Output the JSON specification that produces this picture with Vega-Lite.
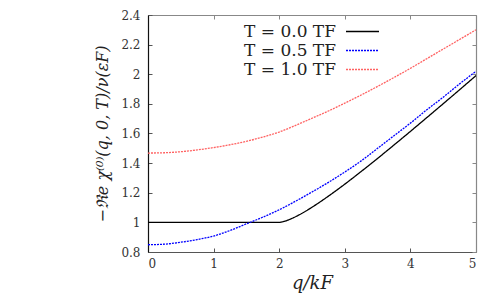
{
  "$schema": "https://vega.github.io/schema/vega-lite/v6.json",
  "width": 328,
  "height": 237,
  "autosize": {"type": "none"},
  "padding": {"left": 148, "top": 15, "right": 22, "bottom": 43},
  "background": "white",
  "config": {
    "view": {"stroke": null},
    "font": "DejaVu Serif",
    "axis": {
      "grid": false,
      "labelFont": "DejaVu Serif",
      "labelFontSize": 12,
      "labelColor": "#333333",
      "titleFont": "DejaVu Serif",
      "titleFontWeight": "normal",
      "titleColor": "#222222",
      "tickSize": -4,
      "tickWidth": 1,
      "domainWidth": 1.2
    }
  },
  "data": {
    "values": [
      {"series": "T = 0.0 TF", "q": 0, "v": 1.0},
      {"series": "T = 0.0 TF", "q": 1, "v": 1.0},
      {"series": "T = 0.0 TF", "q": 2, "v": 1.0},
      {"series": "T = 0.0 TF", "q": 2.05, "v": 1.0037},
      {"series": "T = 0.0 TF", "q": 2.1, "v": 1.0099},
      {"series": "T = 0.0 TF", "q": 2.2, "v": 1.028},
      {"series": "T = 0.0 TF", "q": 2.3, "v": 1.0499},
      {"series": "T = 0.0 TF", "q": 2.4, "v": 1.075},
      {"series": "T = 0.0 TF", "q": 2.5, "v": 1.1022},
      {"series": "T = 0.0 TF", "q": 2.6, "v": 1.1311},
      {"series": "T = 0.0 TF", "q": 2.7, "v": 1.1615},
      {"series": "T = 0.0 TF", "q": 2.8, "v": 1.1928},
      {"series": "T = 0.0 TF", "q": 3.0, "v": 1.2581},
      {"series": "T = 0.0 TF", "q": 3.25, "v": 1.3437},
      {"series": "T = 0.0 TF", "q": 3.5, "v": 1.4319},
      {"series": "T = 0.0 TF", "q": 3.75, "v": 1.5225},
      {"series": "T = 0.0 TF", "q": 4.0, "v": 1.6142},
      {"series": "T = 0.0 TF", "q": 4.25, "v": 1.7072},
      {"series": "T = 0.0 TF", "q": 4.5, "v": 1.801},
      {"series": "T = 0.0 TF", "q": 4.75, "v": 1.8954},
      {"series": "T = 0.0 TF", "q": 5.0, "v": 1.9908},
      {"series": "T = 0.5 TF", "q": 0, "v": 0.849},
      {"series": "T = 0.5 TF", "q": 0.25, "v": 0.853},
      {"series": "T = 0.5 TF", "q": 0.5, "v": 0.866},
      {"series": "T = 0.5 TF", "q": 0.75, "v": 0.884},
      {"series": "T = 0.5 TF", "q": 1.0, "v": 0.908},
      {"series": "T = 0.5 TF", "q": 1.25, "v": 0.945},
      {"series": "T = 0.5 TF", "q": 1.5, "v": 0.99},
      {"series": "T = 0.5 TF", "q": 1.75, "v": 1.035},
      {"series": "T = 0.5 TF", "q": 2.0, "v": 1.085},
      {"series": "T = 0.5 TF", "q": 2.25, "v": 1.143},
      {"series": "T = 0.5 TF", "q": 2.5, "v": 1.205},
      {"series": "T = 0.5 TF", "q": 2.75, "v": 1.27},
      {"series": "T = 0.5 TF", "q": 3.0, "v": 1.34},
      {"series": "T = 0.5 TF", "q": 3.25, "v": 1.415},
      {"series": "T = 0.5 TF", "q": 3.5, "v": 1.5},
      {"series": "T = 0.5 TF", "q": 3.75, "v": 1.585},
      {"series": "T = 0.5 TF", "q": 4.0, "v": 1.67},
      {"series": "T = 0.5 TF", "q": 4.25, "v": 1.76},
      {"series": "T = 0.5 TF", "q": 4.5, "v": 1.845},
      {"series": "T = 0.5 TF", "q": 4.75, "v": 1.935},
      {"series": "T = 0.5 TF", "q": 5.0, "v": 2.02},
      {"series": "T = 1.0 TF", "q": 0, "v": 1.468},
      {"series": "T = 1.0 TF", "q": 0.25, "v": 1.47},
      {"series": "T = 1.0 TF", "q": 0.5, "v": 1.477},
      {"series": "T = 1.0 TF", "q": 0.75, "v": 1.489},
      {"series": "T = 1.0 TF", "q": 1.0, "v": 1.505},
      {"series": "T = 1.0 TF", "q": 1.25, "v": 1.524},
      {"series": "T = 1.0 TF", "q": 1.5, "v": 1.547},
      {"series": "T = 1.0 TF", "q": 1.75, "v": 1.576},
      {"series": "T = 1.0 TF", "q": 2.0, "v": 1.61},
      {"series": "T = 1.0 TF", "q": 2.25, "v": 1.655},
      {"series": "T = 1.0 TF", "q": 2.5, "v": 1.703},
      {"series": "T = 1.0 TF", "q": 2.75, "v": 1.752},
      {"series": "T = 1.0 TF", "q": 3.0, "v": 1.805},
      {"series": "T = 1.0 TF", "q": 3.25, "v": 1.86},
      {"series": "T = 1.0 TF", "q": 3.5, "v": 1.918},
      {"series": "T = 1.0 TF", "q": 3.75, "v": 1.978},
      {"series": "T = 1.0 TF", "q": 4.0, "v": 2.04},
      {"series": "T = 1.0 TF", "q": 4.25, "v": 2.105},
      {"series": "T = 1.0 TF", "q": 4.5, "v": 2.17},
      {"series": "T = 1.0 TF", "q": 4.75, "v": 2.235},
      {"series": "T = 1.0 TF", "q": 5.0, "v": 2.3}
    ]
  },
  "layer": [
    {
      "mark": {"type": "line", "strokeWidth": 1.3, "interpolate": "monotone", "clip": true},
      "encoding": {
        "x": {
          "field": "q", "type": "quantitative",
          "scale": {"domain": [0, 5], "nice": false, "zero": false},
          "axis": {"orient": "bottom", "values": [0, 1, 2, 3, 4, 5], "format": "d", "labelPadding": 10, "domainColor": "#555555", "tickColor": "#555555", "title": "q/kF", "titleFontSize": 18, "titleFontStyle": "italic", "titlePadding": 5}
        },
        "y": {
          "field": "v", "type": "quantitative",
          "scale": {"domain": [0.8, 2.4], "nice": false, "zero": false},
          "axis": {"orient": "left", "values": [0.8, 1, 1.2, 1.4, 1.6, 1.8, 2, 2.2, 2.4], "format": "~g", "labelPadding": 12, "domainColor": "#111111", "tickColor": "#555555", "title": "−ℜe χ⁽⁰⁾(q, 0, T)/ν(εF)", "titleFontSize": 16, "titleFontStyle": "italic", "titlePadding": 10}
        },
        "color": {
          "field": "series", "type": "nominal",
          "scale": {"domain": ["T = 0.0 TF", "T = 0.5 TF", "T = 1.0 TF"], "range": ["#000000", "#0000ff", "#ff6262"]},
          "legend": {"orient": "none", "legendX": 206, "legendY": 8, "title": null, "symbolType": "M-4,0H4", "symbolSize": 68, "symbolStrokeWidth": 1.5, "labelAlign": "right", "labelOffset": -35, "labelFont": "DejaVu Serif", "labelFontSize": 17, "labelColor": "#222222", "labelLimit": 300, "rowPadding": 1}
        },
        "strokeDash": {
          "field": "series", "type": "nominal",
          "scale": {"domain": ["T = 0.0 TF", "T = 0.5 TF", "T = 1.0 TF"], "range": [[1, 0], [2, 1], [2, 1]]},
          "legend": {"orient": "none", "legendX": 206, "legendY": 8, "title": null, "symbolType": "M-4,0H4", "symbolSize": 68, "symbolStrokeWidth": 1.5, "labelAlign": "right", "labelOffset": -35, "labelFont": "DejaVu Serif", "labelFontSize": 17, "labelColor": "#222222", "labelLimit": 300, "rowPadding": 1}
        }
      }
    },
    {
      "mark": {"type": "line", "opacity": 0},
      "encoding": {
        "x": {
          "field": "q", "type": "quantitative",
          "scale": {"domain": [0, 5], "nice": false, "zero": false},
          "axis": {"orient": "top", "values": [0, 1, 2, 3, 4, 5], "labels": false, "title": null, "domainColor": "#888888", "tickColor": "#888888"}
        },
        "y": {
          "field": "v", "type": "quantitative",
          "scale": {"domain": [0.8, 2.4], "nice": false, "zero": false},
          "axis": {"orient": "right", "values": [0.8, 1, 1.2, 1.4, 1.6, 1.8, 2, 2.2, 2.4], "labels": false, "title": null, "domainColor": "#888888", "tickColor": "#888888"}
        },
        "detail": {"field": "series", "type": "nominal"}
      }
    }
  ],
  "resolve": {"axis": {"x": "independent", "y": "independent"}}
}
